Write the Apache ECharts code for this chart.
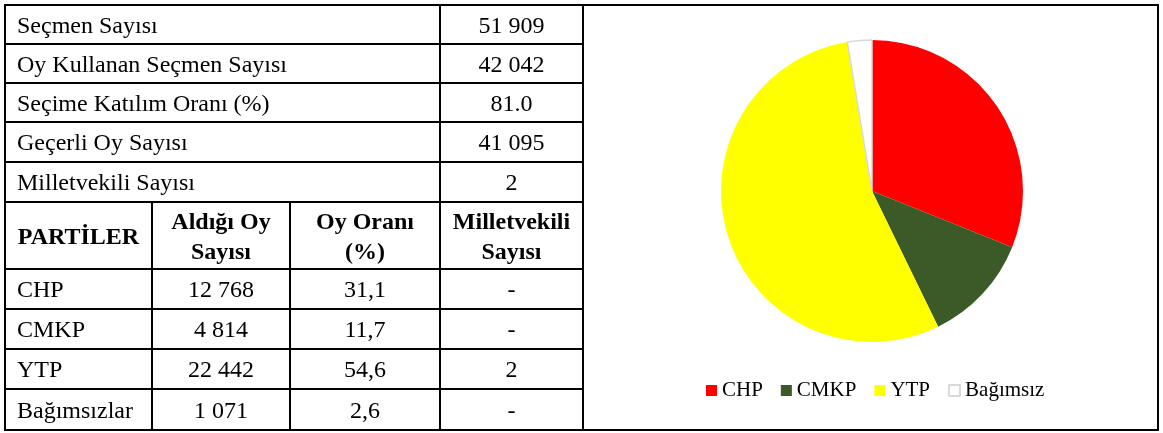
<!DOCTYPE html>
<html>
<head>
<meta charset="utf-8">
<script src="https://cdn.jsdelivr.net/npm/echarts@6/dist/echarts.min.js"></script>
<style>
  html, body { margin: 0; padding: 0; background: #fff; }
  body { width: 1163px; height: 433px; position: relative; overflow: hidden; font-family: "Liberation Serif", "Times New Roman", serif; }
  #chart { position: absolute; left: 0; top: 0; width: 1163px; height: 433px; }
  #panel { position: absolute; left: 582px; top: 4px; width: 577px; height: 427px; border: 2px solid #000; box-sizing: border-box; pointer-events: none; }
  #tbl { position: absolute; left: 4px; top: 4px; border-collapse: collapse; table-layout: fixed; font-size: 24px; color: #000; }
  #tbl td { border: 2px solid #000; padding: 0; vertical-align: middle; white-space: nowrap; line-height: 30px; }
  #tbl td.lbl { text-align: left; padding-left: 11px; }
  #tbl td.num { text-align: center; }
  #tbl td.head { text-align: center; font-weight: bold; }
</style>
</head>
<body>
<div id="chart"></div>
<table id="tbl">
  <colgroup>
    <col style="width:147px"><col style="width:138px"><col style="width:150px"><col style="width:143px">
  </colgroup>
  <tbody id="tbody"></tbody>
</table>
<div id="panel"></div>
<script>
  // ozet satirlari
  const summaryLabels = ['Seçmen Sayısı', 'Oy Kullanan Seçmen Sayısı', 'Seçime Katılım Oranı (%)', 'Geçerli Oy Sayısı', 'Milletvekili Sayısı']
  const summaryValues = ['51 909', '42 042', '81.0', '41 095', '2']

  // parti tablosu
  const tableHeaders = [['PARTİLER'], ['Aldığı Oy', 'Sayısı'], ['Oy Oranı', '(%)'], ['Milletvekili', 'Sayısı']]
  const parties = ['CHP', 'CMKP', 'YTP', 'Bağımsızlar']
  const voteCounts = [12768, 4814, 22442, 1071]
  const voteShares = ['31,1', '11,7', '54,6', '2,6']
  const seats = ['-', '-', '2', '-']

  // pasta grafigi
  const legendNames = ['CHP', 'CMKP', 'YTP', 'Bağımsız']
  const sliceColors = ['#ff0000', '#3b5a27', '#ffff00', '#ffffff']

  const fmt = n => String(n).replace(/\B(?=(\d{3})+(?!\d))/g, ' ')

  const summaryHeights = [39, 39, 39, 40, 40]
  const partyHeights = [40, 40, 40, 41]

  const tbody = document.getElementById('tbody')
  let html = ''
  summaryLabels.forEach((label, i) => {
    html += `<tr style="height:${summaryHeights[i]}px"><td class="lbl" colspan="3">${label}</td><td class="num">${summaryValues[i]}</td></tr>`
  })
  html += '<tr style="height:67px">' + tableHeaders.map(h => `<td class="head">${h.join('<br>')}</td>`).join('') + '</tr>'
  parties.forEach((p, i) => {
    html += `<tr style="height:${partyHeights[i]}px"><td class="lbl">${p}</td><td class="num">${fmt(voteCounts[i])}</td><td class="num">${voteShares[i]}</td><td class="num">${seats[i]}</td></tr>`
  })
  tbody.innerHTML = html

  const chartInstance = echarts.init(document.getElementById('chart'))

  const pieData = legendNames.map((name, i) => ({
    name: name,
    value: voteCounts[i],
    itemStyle: i === 3
      ? { color: sliceColors[i], borderColor: '#d9d9d9', borderWidth: 1.5 }
      : { color: sliceColors[i], borderWidth: 0 }
  }))

  const option = {
    animation: false,
    legend: {
      left: 706,
      top: 380,
      padding: 0,
      itemWidth: 11,
      itemHeight: 11,
      itemGap: 18,
      icon: 'rect',
      selectedMode: false,
      textStyle: {
        fontFamily: 'Liberation Serif',
        fontSize: 21,
        color: '#000'
      },
      data: legendNames.map((name, i) => i === 3
        ? { name: name, itemStyle: { borderColor: '#d9d9d9', borderWidth: 2 } }
        : { name: name })
    },
    series: [
      {
        type: 'pie',
        center: [872, 191],
        radius: 151,
        startAngle: 90,
        clockwise: true,
        silent: true,
        label: { show: false },
        labelLine: { show: false },
        data: pieData
      }
    ]
  }
  chartInstance.setOption(option)
</script>
</body>
</html>
